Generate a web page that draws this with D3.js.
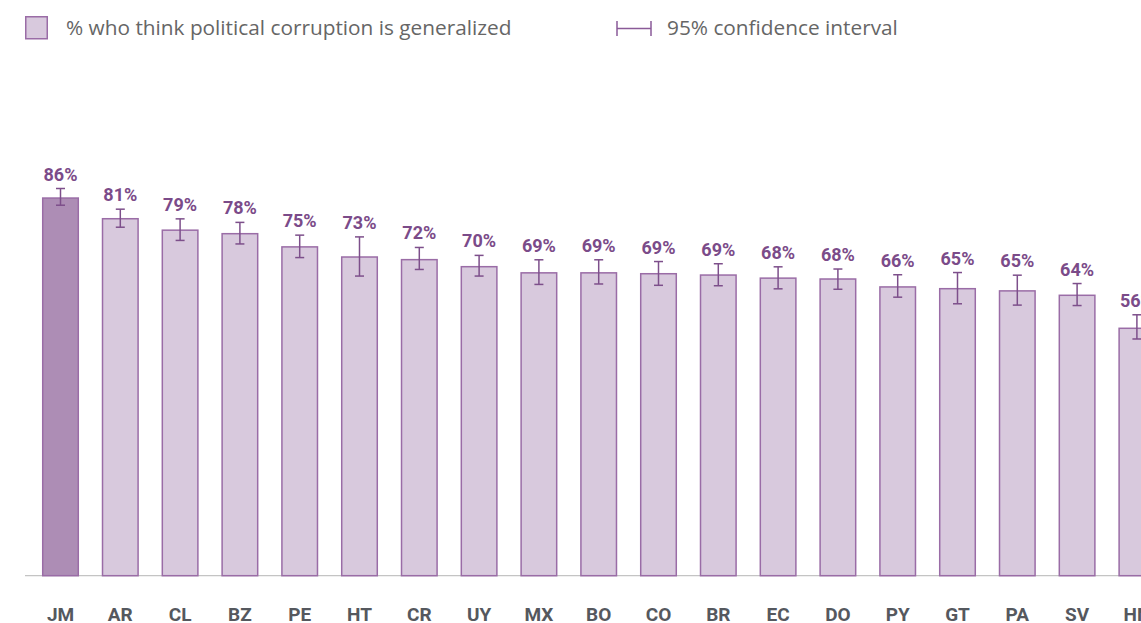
<!DOCTYPE html>
<html>
<head>
<meta charset="utf-8">
<script src="https://cdn.jsdelivr.net/npm/d3@7"></script>
<style>
  body { margin: 0; background: #fff; overflow: hidden; }
  svg { display: block; }
</style>
</head>
<body>
<svg id="chart" width="1141" height="623"></svg>
<script>
// data
var countries = ["JM", "AR", "CL", "BZ", "PE", "HT", "CR", "UY", "MX", "BO", "CO", "BR", "EC", "DO", "PY", "GT", "PA", "SV", "HN"];
var values    = [86.0, 81.3, 78.7, 77.9, 74.9, 72.6, 72.0, 70.4, 69.0, 69.0, 68.8, 68.5, 67.8, 67.6, 65.8, 65.4, 64.9, 63.9, 56.4];
var ciLow     = [84.2, 79.2, 76.2, 75.4, 72.3, 68.1, 69.6, 68.1, 66.2, 66.3, 66.0, 65.9, 65.2, 65.1, 63.3, 61.8, 61.5, 61.4, 53.8];
var ciHigh    = [88.0, 83.3, 81.1, 80.3, 77.4, 77.0, 74.6, 72.8, 71.8, 71.8, 71.4, 70.9, 70.2, 69.7, 68.4, 68.9, 68.3, 66.4, 59.3];
var highlight = "JM";

var svg = d3.select("#chart");

var rows = countries.map(function(c, i) {
  return { c: c, v: values[i], lo: ciLow[i], hi: ciHigh[i] };
});

var x = d3.scaleBand()
  .domain(countries)
  .range([30.6, 30.6 + 19 * 59.8])
  .paddingInner(0.38)
  .paddingOuter(0.19);

var y = d3.scaleLinear()
  .domain([0, 100])
  .range([575.7, 575.7 - 440]);

// baseline
svg.append("line")
  .attr("x1", 25).attr("x2", 1141)
  .attr("y1", y(0)).attr("y2", y(0))
  .attr("stroke", "#c4c4c4")
  .attr("stroke-width", 1.2);

// bars
svg.selectAll("rect.bar")
  .data(rows)
  .enter()
  .append("rect")
  .attr("class", "bar")
  .attr("x", function(d) { return x(d.c) + 0.75; })
  .attr("width", x.bandwidth() - 1.5)
  .attr("y", function(d) { return y(d.v) + 0.75; })
  .attr("height", function(d) { return y(0) - y(d.v) - 0.75; })
  .attr("fill", function(d) { return d.c == highlight ? "#ad8db5" : "#d8c9dd"; })
  .attr("stroke", "#9a6ca6")
  .attr("stroke-width", 1.5);

// error bars
var err = svg.selectAll("g.err")
  .data(rows)
  .enter()
  .append("g")
  .attr("class", "err")
  .attr("transform", function(d) {
    return "translate(" + (x(d.c) + x.bandwidth() / 2) + ",0)";
  })
  .attr("stroke", "#7d4f8b")
  .attr("stroke-width", 1.5);

err.append("line")
  .attr("y1", function(d) { return y(d.lo); })
  .attr("y2", function(d) { return y(d.hi); });
err.append("line")
  .attr("x1", -4.5).attr("x2", 4.5)
  .attr("y1", function(d) { return y(d.lo); })
  .attr("y2", function(d) { return y(d.lo); });
err.append("line")
  .attr("x1", -4.5).attr("x2", 4.5)
  .attr("y1", function(d) { return y(d.hi); })
  .attr("y2", function(d) { return y(d.hi); });

// value labels
svg.selectAll("text.val")
  .data(rows)
  .enter()
  .append("text")
  .attr("class", "val")
  .attr("x", function(d) { return x(d.c) + x.bandwidth() / 2; })
  .attr("y", function(d) { return y(d.hi) - 8; })
  .attr("text-anchor", "middle")
  .attr("font-family", "Roboto, sans-serif")
  .attr("font-weight", "bold")
  .attr("font-size", "18px")
  .attr("fill", "#7b4b89")
  .text(function(d) { return Math.round(d.v) + "%"; });

// category labels
svg.selectAll("text.cat")
  .data(countries)
  .enter()
  .append("text")
  .attr("class", "cat")
  .attr("x", function(d) { return x(d) + x.bandwidth() / 2; })
  .attr("y", 621)
  .attr("text-anchor", "middle")
  .attr("font-family", "Roboto, sans-serif")
  .attr("font-weight", "bold")
  .attr("font-size", "19px")
  .attr("fill", "#55585e")
  .text(function(d) { return d; });

// legend
svg.append("rect")
  .attr("x", 25.75).attr("y", 16.75)
  .attr("width", 21.5).attr("height", 22)
  .attr("fill", "#d8c9dd")
  .attr("stroke", "#9a6ca6")
  .attr("stroke-width", 1.5);
svg.append("text")
  .attr("x", 66).attr("y", 35)
  .attr("font-family", "'Open Sans', sans-serif")
  .attr("font-size", "20.8px")
  .attr("fill", "#666")
  .text("% who think political corruption is generalized");

var ci = svg.append("g")
  .attr("stroke", "#8a5a98")
  .attr("stroke-width", 1.5);
ci.append("line").attr("x1", 617).attr("x2", 617).attr("y1", 21).attr("y2", 36);
ci.append("line").attr("x1", 617).attr("x2", 651).attr("y1", 28.5).attr("y2", 28.5);
ci.append("line").attr("x1", 651).attr("x2", 651).attr("y1", 21).attr("y2", 36);
svg.append("text")
  .attr("x", 667).attr("y", 35)
  .attr("font-family", "'Open Sans', sans-serif")
  .attr("font-size", "20.8px")
  .attr("fill", "#666")
  .text("95% confidence interval");
</script>
</body>
</html>
